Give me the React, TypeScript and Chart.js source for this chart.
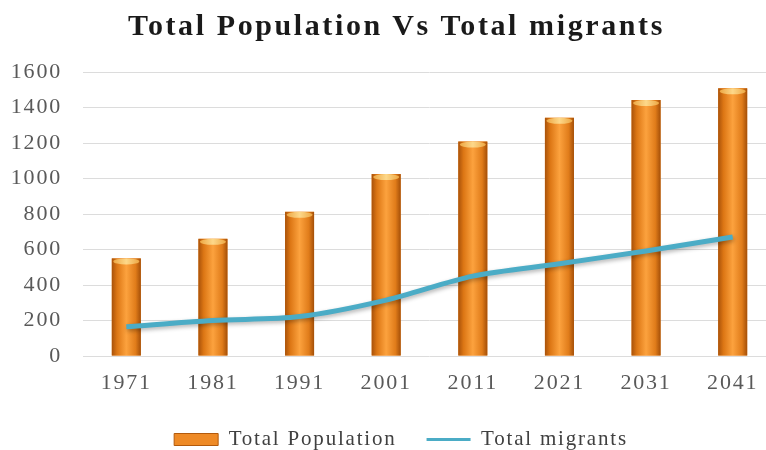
import React, { useEffect, useRef } from 'react';
import { Chart, registerables } from 'chart.js';

Chart.register(...registerables);

const years = ['1971', '1981', '1991', '2001', '2011', '2021', '2031', '2041'];
const totalPopulation = [550, 660, 812, 1025, 1208, 1342, 1442, 1508];
const totalMigrants = [165, 200, 222, 315, 450, 520, 592, 670];
const yMin = 0;
const yMax = 1600;
const yStep = 200;

const FONT = '"Liberation Serif", "Times New Roman", serif';
const SPACING = '1.8px';

const spacingPlugin = {
  id: 'letterSpacing',
  beforeUpdate(chart: any) {
    chart.ctx.letterSpacing = SPACING;
  },
  beforeDraw(chart: any) {
    chart.ctx.letterSpacing = SPACING;
  },
};

const cylinderPlugin = {
  id: 'cylinderBars',
  beforeDatasetDraw(chart: any, args: any) {
    if (args.index === 1) {
      const c = chart.ctx;
      c.save();
      c.shadowColor = 'rgba(0,0,0,0.3)';
      c.shadowBlur = 4;
      c.shadowOffsetX = 1;
      c.shadowOffsetY = 2;
    }
  },
  afterDatasetDraw(chart: any, args: any) {
    const ctx = chart.ctx;
    if (args.index === 1) {
      ctx.restore();
      return;
    }
    if (args.index !== 0) return;
    args.meta.data.forEach((el: any) => {
      const { x, y, base, width } = el.getProps(['x', 'y', 'base', 'width'], true);
      const l = x - width / 2;
      const r = x + width / 2;
      ctx.save();
      const g = ctx.createLinearGradient(l, 0, r, 0);
      g.addColorStop(0, '#a9520a');
      g.addColorStop(0.18, '#dc7614');
      g.addColorStop(0.5, '#fca23e');
      g.addColorStop(0.82, '#e07c1a');
      g.addColorStop(1, '#a44f08');
      ctx.fillStyle = g;
      ctx.fillRect(l, y, width, base - y);
      const cg = ctx.createLinearGradient(l, 0, r, 0);
      cg.addColorStop(0, '#eba23c');
      cg.addColorStop(0.5, '#fdd88a');
      cg.addColorStop(1, '#eba23c');
      ctx.fillStyle = cg;
      ctx.beginPath();
      ctx.ellipse(x, y + 3, width / 2 - 1.5, 3, 0, 0, Math.PI * 2);
      ctx.fill();
      ctx.restore();
    });
  },
};

export default function App() {
  const ref = useRef<HTMLCanvasElement | null>(null);

  useEffect(() => {
    document.body.style.margin = '0';
    if (!ref.current) return;
    const chart = new Chart(ref.current, {
      type: 'bar',
      data: {
        labels: years,
        datasets: [
          {
            type: 'bar',
            label: 'Total Population',
            data: totalPopulation,
            backgroundColor: '#ee8a26',
            borderWidth: 0,
            barPercentage: 0.335,
            categoryPercentage: 1,
            order: 1,
            pointStyle: 'rect',
          } as any,
          {
            type: 'line',
            label: 'Total migrants',
            data: totalMigrants,
            borderColor: '#4bacc6',
            backgroundColor: '#4bacc6',
            borderWidth: 5,
            pointRadius: 0,
            pointStyle: 'line',
            tension: 0.3,
            order: 0,
          } as any,
        ],
      },
      options: {
        responsive: false,
        animation: false,
        devicePixelRatio: 1,
        layout: { padding: { left: 26, right: 14, top: 72, bottom: 4 } },
        scales: {
          x: {
            grid: { display: false },
            border: { display: false },
            ticks: { font: { family: FONT, size: 22 }, color: '#595959', padding: 6 },
            afterFit: (s: any) => {
              s.height = 43;
            },
          },
          y: {
            min: yMin,
            max: yMax,
            grid: { color: '#dcdcdc', drawTicks: false },
            border: { display: false },
            ticks: {
              stepSize: yStep,
              font: { family: FONT, size: 22 },
              color: '#595959',
              padding: 21,
              callback: (v: any) => String(v),
            },
            afterFit: (s: any) => {
              s.width = 57;
              s._computeLabelArea = () => undefined;
            },
          },
        },
        plugins: {
          title: { display: false },
          tooltip: { enabled: false },
          legend: {
            position: 'bottom',
            labels: {
              font: { family: FONT, size: 21 },
              color: '#404040',
              usePointStyle: true,
              pointStyleWidth: 44,
              boxWidth: 44,
              boxHeight: 12,
              padding: 30,
              sort: (a: any, b: any) => a.datasetIndex - b.datasetIndex,
              generateLabels: (c: any) => {
                const items = (Chart.defaults.plugins.legend.labels as any).generateLabels(c);
                items.forEach((it: any) => {
                  if (it.datasetIndex === 1) {
                    it.lineWidth = 3;
                  } else {
                    it.lineWidth = 1;
                    it.strokeStyle = '#b35a0c';
                  }
                });
                return items;
              },
            },
          },
        },
      },
      plugins: [spacingPlugin, cylinderPlugin],
    });
    return () => chart.destroy();
  }, []);

  return (
    <div style={{ position: 'relative', width: 766, height: 450, overflow: 'hidden', background: '#fff' }}>
      <canvas ref={ref} width={790} height={464} style={{ position: 'absolute', left: 0, top: 0 }} />
      <div
        style={{
          position: 'absolute',
          left: 0,
          top: 10,
          width: 793,
          textAlign: 'center',
          fontFamily: FONT,
          fontWeight: 'bold',
          fontSize: 30,
          lineHeight: '30px',
          letterSpacing: '2.6px',
          color: '#1a1a1a',
          whiteSpace: 'nowrap',
        }}
      >
        Total Population Vs Total migrants
      </div>
    </div>
  );
}
